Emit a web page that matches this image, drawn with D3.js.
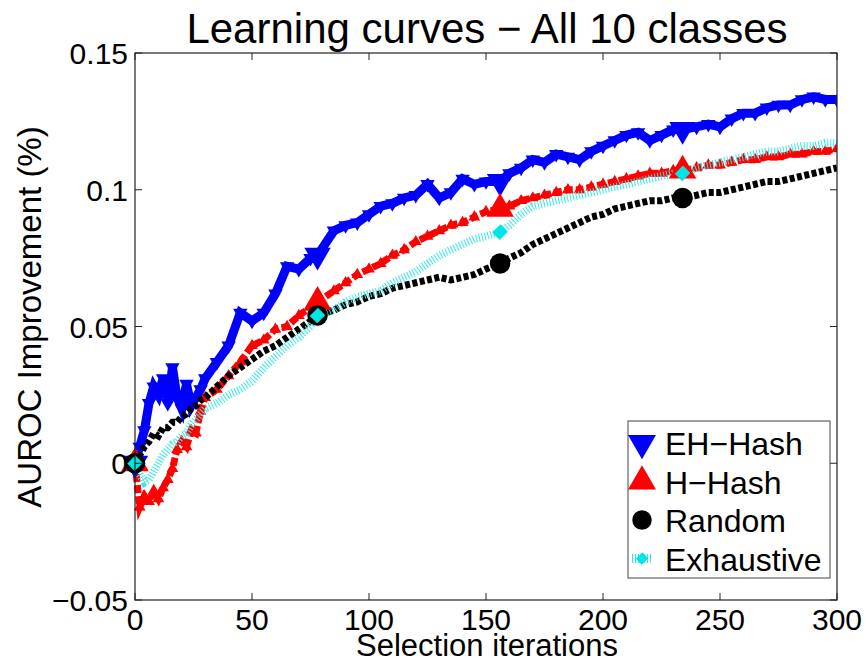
<!DOCTYPE html>
<html><head><meta charset="utf-8">
<script src="https://cdn.jsdelivr.net/npm/d3@7"></script>
<style>body{margin:0;background:#fff}svg{display:block}text{font-family:"Liberation Sans",Arial,sans-serif;fill:#000}</style>
</head><body>
<svg id="c" width="867" height="663"></svg>
<script>
const iterations = [0,2,4,6,8,10,12,14,16,18,20,22,24,26,28,30,35,40,45,50,55,60,65,70,75,78,85,90,95,100,105,110,115,120,125,130,135,140,145,150,156,160,165,170,175,180,185,190,195,200,205,210,215,220,225,230,234,240,245,250,255,260,265,270,275,280,285,290,295,300];
const ehHash = [0.000,0.006,0.012,0.022,0.028,0.025,0.031,0.022,0.035,0.024,0.020,0.029,0.021,0.024,0.027,0.031,0.037,0.043,0.055,0.052,0.055,0.062,0.072,0.071,0.075,0.076,0.085,0.087,0.088,0.091,0.094,0.095,0.097,0.098,0.102,0.097,0.099,0.104,0.102,0.103,0.103,0.106,0.108,0.111,0.110,0.113,0.112,0.111,0.114,0.116,0.118,0.120,0.121,0.118,0.120,0.122,0.122,0.123,0.124,0.123,0.126,0.128,0.128,0.130,0.131,0.131,0.133,0.134,0.133,0.133];
const hHash = [0.000,-0.016,-0.012,-0.014,-0.010,-0.013,-0.009,-0.006,-0.002,0.005,0.008,0.006,0.012,0.011,0.019,0.024,0.027,0.032,0.037,0.043,0.045,0.049,0.050,0.054,0.057,0.059,0.063,0.066,0.069,0.071,0.073,0.076,0.078,0.081,0.083,0.085,0.087,0.088,0.090,0.092,0.093,0.094,0.096,0.097,0.098,0.099,0.100,0.100,0.101,0.102,0.103,0.104,0.105,0.106,0.106,0.107,0.107,0.108,0.109,0.109,0.110,0.111,0.111,0.112,0.112,0.113,0.113,0.114,0.114,0.115];
const randomSel = [0.000,0.003,0.006,0.008,0.011,0.010,0.013,0.013,0.015,0.015,0.017,0.018,0.020,0.021,0.023,0.024,0.028,0.032,0.035,0.038,0.041,0.043,0.046,0.049,0.052,0.054,0.056,0.058,0.059,0.061,0.062,0.064,0.065,0.066,0.067,0.068,0.067,0.068,0.069,0.071,0.073,0.075,0.077,0.080,0.082,0.084,0.086,0.088,0.090,0.091,0.093,0.094,0.095,0.096,0.096,0.097,0.097,0.098,0.099,0.099,0.100,0.101,0.102,0.103,0.103,0.104,0.105,0.106,0.107,0.108];
const exhaustive = [0.000,-0.004,-0.007,-0.006,-0.003,0.000,0.003,0.005,0.007,0.008,0.010,0.011,0.014,0.016,0.018,0.020,0.022,0.025,0.027,0.030,0.035,0.039,0.043,0.046,0.050,0.054,0.056,0.059,0.061,0.062,0.063,0.066,0.068,0.070,0.073,0.076,0.078,0.080,0.082,0.083,0.0845,0.087,0.091,0.094,0.095,0.096,0.097,0.098,0.099,0.100,0.101,0.102,0.103,0.104,0.105,0.106,0.106,0.108,0.109,0.110,0.111,0.112,0.113,0.114,0.114,0.115,0.116,0.116,0.117,0.117];
const markerIters = [0,78,156,234];
const seriesNames = ["EH\u2212Hash","H\u2212Hash","Random","Exhaustive"];
const xTicks = [0,50,100,150,200,250,300];
const yTicks = [-0.05,0,0.05,0.1,0.15];
const yTickLabels = ["\u22120.05","0","0.05","0.1","0.15"];
const titleText = "Learning curves \u2212 All 10 classes";
const xLabel = "Selection iterations";
const yLabel = "AUROC Improvement (%)";

const svg = d3.select("#c");
const L=135,R=837,T=53,B=600;
const x = d3.scaleLinear().domain([0,300]).range([L,R]);
const y = d3.scaleLinear().domain([-0.05,0.15]).range([B,T]);

const series = [
 {name:seriesNames[0], vals:ehHash, color:"#0000ff", width:9, dash:null, sym:"down", msize:300},
 {name:seriesNames[1], vals:hHash, color:"#ff0000", width:7, dash:"8,3", sym:"up", msize:330},
 {name:seriesNames[2], vals:randomSel, color:"#000000", width:7, dash:"5,2.5", sym:"circle", msize:330},
 {name:seriesNames[3], vals:exhaustive, color:"#33e8e8", width:8, dash:"1,2", sym:"diamond", msize:110}
];
function symPath(s,size){
  if(s==="down"||s==="up") return d3.symbol(d3.symbolTriangle,size)();
  if(s==="circle") return d3.symbol(d3.symbolCircle,size)();
  return d3.symbol(d3.symbolSquare,size)();
}
function rot(s){return s==="down"?" rotate(180)":(s==="diamond"?" rotate(45) scale(1,1.1)":"");}

svg.append("defs").append("clipPath").attr("id","clip").append("rect")
 .attr("x",L-14).attr("y",T).attr("width",R-L+14).attr("height",B-T);

const plot = svg.append("g").attr("clip-path","url(#clip)");
const line = d3.line().x((d,i)=>x(iterations[i])).y(d=>y(d));
series.forEach(s=>{
  plot.append("path").datum(s.vals).attr("d",line).attr("fill","none")
   .attr("stroke",s.color).attr("stroke-width",s.width).attr("stroke-linejoin","miter")
   .attr("stroke-dasharray",s.dash);
  if(s.sym==="down"||s.sym==="up"){
    plot.selectAll(null).data(s.vals).join("path")
     .attr("d",symPath(s.sym,s.sym==="down"?90:60))
     .attr("transform",(d,i)=>`translate(${x(iterations[i])},${y(d)})${rot(s.sym)}`)
     .attr("fill",s.color);
  }
});
series.forEach(s=>{
  const idx = iterations.map((it,i)=>markerIters.includes(it)?i:-1).filter(i=>i>=0);
  plot.selectAll(null).data(idx).join("path")
   .attr("d",symPath(s.sym,s.msize))
   .attr("transform",i=>`translate(${x(iterations[i])},${y(s.vals[i])})${rot(s.sym)}`)
   .attr("fill",s.sym==="diamond"?"#00e6e6":s.color);
});

svg.append("rect").attr("x",L).attr("y",T).attr("width",R-L).attr("height",B-T)
 .attr("fill","none").attr("stroke","#222").attr("stroke-width",1.2);
const tl=7;
xTicks.forEach(t=>{
  svg.append("line").attr("x1",x(t)).attr("x2",x(t)).attr("y1",B).attr("y2",B-tl).attr("stroke","#222");
  svg.append("line").attr("x1",x(t)).attr("x2",x(t)).attr("y1",T).attr("y2",T+tl).attr("stroke","#222");
  svg.append("text").attr("x",x(t)).attr("y",B+30).attr("text-anchor","middle").attr("font-size",30).text(t);
});
yTicks.forEach((t,i)=>{
  svg.append("line").attr("x1",L).attr("x2",L+tl).attr("y1",y(t)).attr("y2",y(t)).attr("stroke","#222");
  svg.append("line").attr("x1",R).attr("x2",R-tl).attr("y1",y(t)).attr("y2",y(t)).attr("stroke","#222");
  svg.append("text").attr("x",L-7).attr("y",y(t)+11).attr("text-anchor","end").attr("font-size",30).text(yTickLabels[i]);
});
svg.append("text").attr("x",487).attr("y",43).attr("text-anchor","middle").attr("font-size",42).text(titleText);
svg.append("text").attr("x",487).attr("y",656).attr("text-anchor","middle").attr("font-size",31).text(xLabel);
svg.append("text").attr("transform","translate(41,317) rotate(-90)").attr("text-anchor","middle").attr("font-size",33).text(yLabel);

const lg = svg.append("g");
lg.append("rect").attr("x",628).attr("y",421).attr("width",202).attr("height",157)
 .attr("fill","#fff").attr("stroke","#444").attr("stroke-width",1);
series.forEach((s,i)=>{
  const cy = 443 + i*38.5;
  if(s.sym==="diamond"){
    lg.append("line").attr("x1",632).attr("x2",652).attr("y1",cy).attr("y2",cy)
     .attr("stroke",s.color).attr("stroke-width",9).attr("stroke-dasharray","1,2");
  }
  lg.append("path").attr("d",symPath(s.sym,s.sym==="diamond"?70:(s.sym==="circle"?300:340)))
   .attr("transform",`translate(642,${cy})${rot(s.sym)}`).attr("fill",s.sym==="diamond"?"#00e6e6":s.color);
  lg.append("text").attr("x",665).attr("y",cy+12).attr("font-size",32).text(s.name);
});
</script>
</body></html>
